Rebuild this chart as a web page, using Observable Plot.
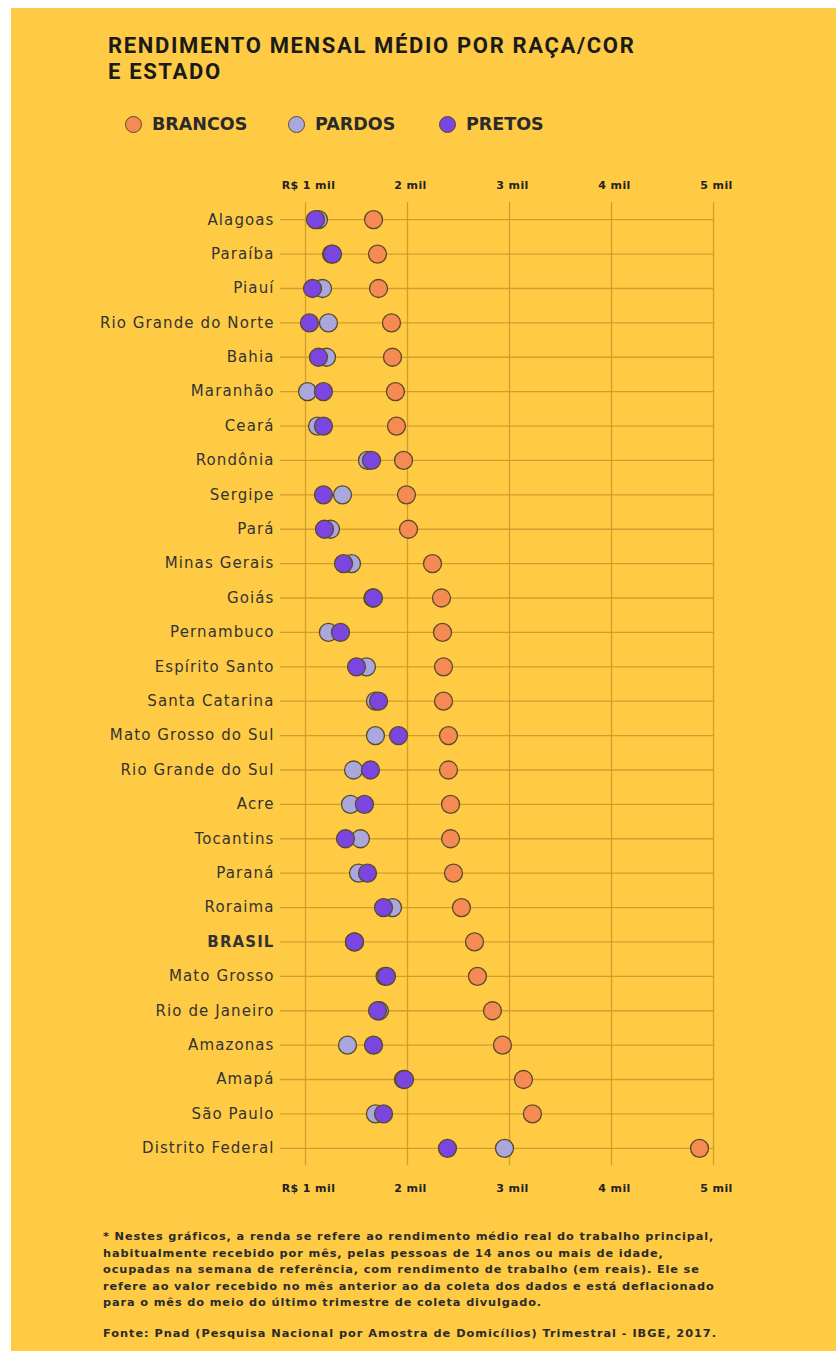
<!DOCTYPE html>
<html>
<head>
<meta charset="utf-8">
<script src="https://cdn.jsdelivr.net/npm/d3@7"></script>
<script src="https://cdn.jsdelivr.net/npm/@observablehq/plot@0.6"></script>
<style>
  html, body { margin: 0; padding: 0; background: #fff; }
  #page { position: relative; width: 836px; height: 1351px; overflow: hidden; background: #fff; }
  #bg { position: absolute; left: 11px; top: 8px; right: 0; bottom: 0; background: #FFCB45; }
  #title { position: absolute; left: 108px; top: 33px; font-family: Roboto, "Noto Sans", sans-serif; font-weight: 700; font-size: 22px; line-height: 26px; color: #1a1a1a; letter-spacing: 1.65px; white-space: nowrap; }
  #legend { position: absolute; left: 125px; top: 113px; font-family: "DejaVu Sans", sans-serif; font-weight: 700; font-size: 17.5px; color: #2a2a2a; }
  .li { position: absolute; top: 0; white-space: nowrap; line-height: 22px; }
  .sw { display: inline-block; width: 17px; height: 17px; border-radius: 50%; border: 1.3px solid #5b4a2a; vertical-align: -3px; margin-right: 10px; box-sizing: border-box; }
  #chart { position: absolute; left: 0; top: 150px; }
  #chart g[aria-label="y-axis tick label"] text { letter-spacing: 1.1px; }
  #chart g[aria-label="x-axis tick label"] text { letter-spacing: 0.4px; }
  #note { position: absolute; left: 103px; top: 1229px; font-family: "DejaVu Sans", sans-serif; font-weight: 700; font-size: 11.3px; line-height: 16.5px; color: #2a2a2a; letter-spacing: 0.88px; white-space: nowrap; }
  #note p { margin: 0; }
  #note p + p { margin-top: 14px; }
  #note p.src { letter-spacing: 0.98px; }
</style>
</head>
<body>
<div id="page">
  <div id="bg"></div>
  <div id="title">RENDIMENTO MENSAL MÉDIO POR RAÇA/COR<br>E ESTADO</div>
  <div id="legend"></div>
  <div id="chart"></div>
  <div id="note">
    <p>* Nestes gráficos, a renda se refere ao rendimento médio real do trabalho principal,<br>habitualmente recebido por mês, pelas pessoas de 14 anos ou mais de idade,<br>ocupadas na semana de referência, com rendimento de trabalho (em reais). Ele se<br>refere ao valor recebido no mês anterior ao da coleta dos dados e está deflacionado<br>para o mês do meio do último trimestre de coleta divulgado.</p>
    <p class="src">Fonte: Pnad (Pesquisa Nacional por Amostra de Domicílios) Trimestral - IBGE, 2017.</p>
  </div>
</div>
<script>
const states = ["Alagoas","Paraíba","Piauí","Rio Grande do Norte","Bahia","Maranhão","Ceará","Rondônia","Sergipe","Pará","Minas Gerais","Goiás","Pernambuco","Espírito Santo","Santa Catarina","Mato Grosso do Sul","Rio Grande do Sul","Acre","Tocantins","Paraná","Roraima","BRASIL","Mato Grosso","Rio de Janeiro","Amazonas","Amapá","São Paulo","Distrito Federal"];
const brancos = [1667,1706,1716,1843,1853,1882,1892,1961,1990,2010,2245,2333,2343,2353,2353,2402,2402,2422,2422,2451,2529,2657,2686,2833,2931,3137,3225,4863];
const pardos  = [1127,1255,1167,1225,1206,1020,1118,1608,1363,1245,1451,1660,1225,1598,1686,1686,1471,1441,1539,1520,1853,1480,1780,1725,1412,1960,1686,2951];
const pretos  = [1098,1265,1069,1039,1127,1176,1176,1647,1176,1186,1373,1667,1343,1500,1716,1912,1637,1578,1392,1608,1765,1480,1794,1706,1667,1971,1765,2392];
const groups = ["BRANCOS","PARDOS","PRETOS"];
const colors = ["#F58A52","#A9A7DC","#7B45E0"];
const xTicks = [1000,2000,3000,4000,5000];

const rows = [];
const seriesVals = [brancos, pardos, pretos];
groups.forEach((g, gi) => states.forEach((s, i) => rows.push({state: s, group: g, value: seriesVals[gi][i]})));

// legend
const legend = document.getElementById("legend");
const legendX = [0, 163, 314];
groups.forEach((g, i) => {
  const d = document.createElement("div");
  d.className = "li";
  d.style.left = legendX[i] + "px";
  d.innerHTML = `<span class="sw" style="background:${colors[i]}"></span>${g}`;
  legend.appendChild(d);
});

const fmt = d => d === 1000 ? "R$ 1 mil" : `${d/1000} mil`;
const gridColor = "#C9962A";
const labelFont = "'DejaVu Sans', sans-serif";

const plot = Plot.plot({
  width: 836,
  height: 1060,
  marginLeft: 280,
  marginRight: 123,
  marginTop: 52,
  marginBottom: 45,
  style: {background: "transparent", fontFamily: labelFont, overflow: "visible"},
  x: {domain: [755, 5000]},
  y: {type: "point", domain: states, padding: 0.5, round: false},
  color: {domain: groups, range: colors},
  marks: [
    Plot.ruleY(states, {y: d => d, stroke: gridColor, strokeWidth: 1.3, strokeOpacity: 0.85}),
    Plot.ruleX(xTicks, {x: d => d, stroke: gridColor, strokeWidth: 1.3, strokeOpacity: 0.85}),
    Plot.axisX({anchor: "top", ticks: xTicks, tickFormat: fmt, tickSize: 0, tickPadding: 14, dx: 3, label: null, fontSize: 11, fontWeight: 700, fill: "#222", fontFamily: labelFont}),
    Plot.axisX({anchor: "bottom", ticks: xTicks, tickFormat: fmt, tickSize: 0, tickPadding: 19, dx: 3, label: null, fontSize: 11, fontWeight: 700, fill: "#222", fontFamily: labelFont}),
    Plot.axisY({tickSize: 0, tickPadding: 6, label: null, fontSize: 15, fill: "#333", fontFamily: labelFont}),
    Plot.dot(rows, {x: "value", y: "state", fill: "group", r: 9, stroke: "#5b4a2a", strokeWidth: 1.3})
  ]
});
// bold BRASIL label
plot.querySelectorAll("g[aria-label='y-axis tick label'] text").forEach(t => {
  if (t.textContent === "BRASIL") t.setAttribute("font-weight", "700");
});
document.getElementById("chart").appendChild(plot);
</script>
</body>
</html>
